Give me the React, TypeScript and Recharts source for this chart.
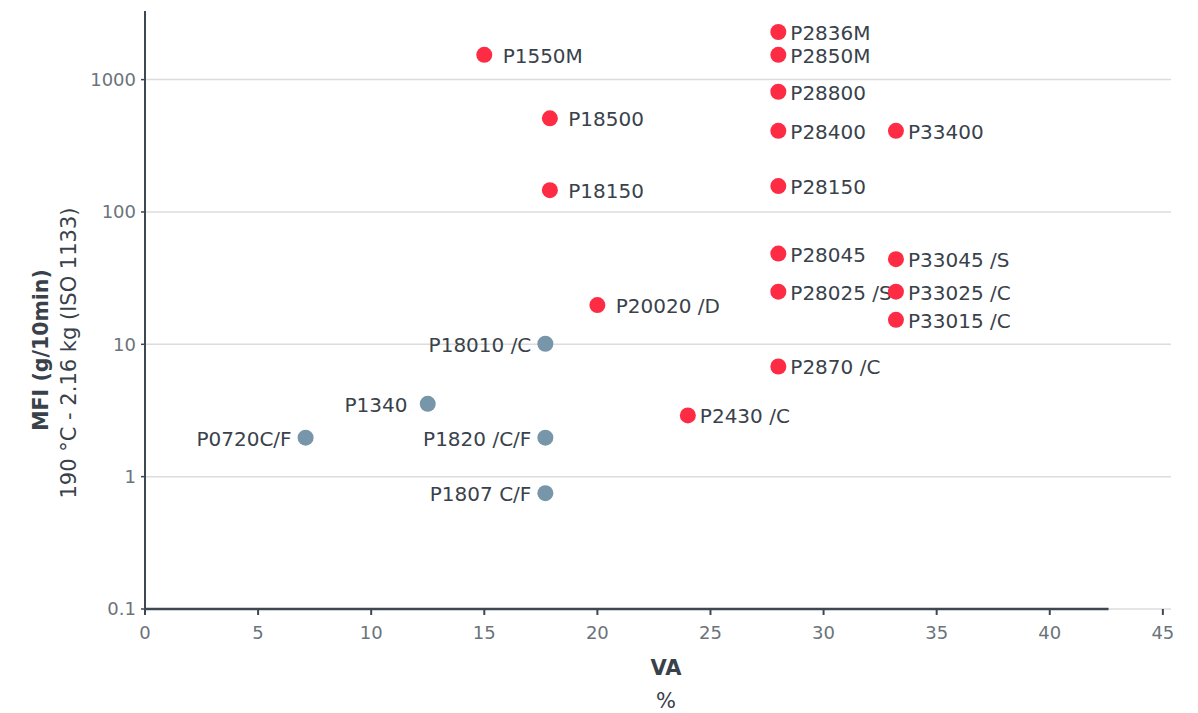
import { Label, ReferenceLine, Scatter, ScatterChart, XAxis, YAxis } from "recharts";

// red grades (labels right of the dot)
const redNames = [
  " P1550M", "P2836M", "P2850M", "P28800", " P18500", "P28400", "P33400", " P18150", "P28150",
  "P28045", "P33045 /S", "P28025 /S", "P33025 /C", " P20020 /D", "P33015 /C", "P2870 /C", "P2430 /C",
];
const redVA = [15, 28, 28, 28, 17.9, 28, 33.2, 17.9, 28, 28, 33.2, 28, 33.2, 20, 33.2, 28, 24];
const redMFI = [1540, 2290, 1540, 810, 510, 410, 410, 146, 157, 48.5, 44, 25, 25, 19.8, 15.3, 6.8, 2.9];

// blue grades (labels left of the dot)
const blueNames = ["P18010 /C", "P1340 ", "P0720C/F", "P1820 /C/F", "P1807 C/F"];
const blueVA = [17.7, 12.5, 7.1, 17.7, 17.7];
const blueMFI = [10.1, 3.55, 1.97, 1.97, 0.75];

const xTicks = [0, 5, 10, 15, 20, 25, 30, 35, 40, 45];
const yTicks = [0.1, 1, 10, 100, 1000];

const redData = redNames.map((name, i) => ({ name, x: redVA[i], y: redMFI[i] }));
const blueData = blueNames.map((name, i) => ({ name, x: blueVA[i], y: blueMFI[i] }));

const FONT = "'DejaVu Sans', sans-serif";
const AXIS = "#3d4852";
const TEXT = "#39424b";

function RedDot(props: any) {
  const { cx, cy, payload } = props;
  return (
    <g>
      <circle cx={cx} cy={cy} r={8} fill="#fe2b45" />
      <text x={cx + 12} y={cy} dy={8} fontSize={20} fontFamily={FONT} fill={TEXT} style={{ whiteSpace: "pre" }}>
        {payload.name}
      </text>
    </g>
  );
}

function BlueDot(props: any) {
  const { cx, cy, payload } = props;
  return (
    <g>
      <circle cx={cx} cy={cy} r={8} fill="#7896aa" />
      <text x={cx - 14} y={cy} dy={8} fontSize={20} fontFamily={FONT} fill={TEXT} textAnchor="end" style={{ whiteSpace: "pre" }}>
        {payload.name}
      </text>
    </g>
  );
}

function YTitle(props: any) {
  const { viewBox } = props;
  const x1 = viewBox.x + 41;
  const x2 = viewBox.x + 69;
  const y = 350;
  return (
    <g fontFamily={FONT} fill={TEXT}>
      <text x={x1} y={y} transform={`rotate(-90, ${x1}, ${y})`} textAnchor="middle" dominantBaseline="central" fontSize={20.5} fontWeight="bold">
        MFI (g/10min)
      </text>
      <text x={x2} y={y + 3} transform={`rotate(-90, ${x2}, ${y + 3})`} textAnchor="middle" dominantBaseline="central" fontSize={21}>
        190 °C - 2.16 kg (ISO 1133)
      </text>
    </g>
  );
}

function XTitle(props: any) {
  const { viewBox } = props;
  const cx = viewBox.x + viewBox.width / 2 + 8;
  return (
    <g fontFamily={FONT} fill={TEXT}>
      <text x={cx} y={668} textAnchor="middle" dominantBaseline="central" fontSize={21} fontWeight="bold">
        VA
      </text>
      <text x={cx} y={701} textAnchor="middle" dominantBaseline="central" fontSize={21}>
        %
      </text>
    </g>
  );
}

export default function App() {
  return (
    <div style={{ position: "absolute", left: 0, top: 0, background: "#fff" }}>
      <ScatterChart width={1198} height={713} margin={{ top: 11, right: 27, bottom: 0, left: 0 }}>
        <XAxis
          type="number"
          dataKey="x"
          domain={[0, 45.36]}
          ticks={xTicks}
          allowDataOverflow
          height={104}
          axisLine={false}
          tickLine={{ stroke: AXIS, strokeWidth: 2 }}
          tickSize={6}
          tickMargin={11}
          tick={{ fill: "#6b737b", fontSize: 18, fontFamily: FONT }}
        >
          <Label content={XTitle} />
        </XAxis>
        <YAxis
          type="number"
          dataKey="y"
          scale="log"
          domain={[0.1, 3300]}
          ticks={yTicks}
          allowDataOverflow
          width={145}
          axisLine={{ stroke: AXIS, strokeWidth: 2 }}
          tickLine={{ stroke: AXIS, strokeWidth: 1.5 }}
          tickSize={4}
          tickMargin={5}
          tick={{ fill: "#6b737b", fontSize: 18, fontFamily: FONT }}
        >
          <Label content={YTitle} />
        </YAxis>
        {yTicks.map((t) => (
          <ReferenceLine key={t} y={t} stroke="#dcdcdc" strokeWidth={1.5} />
        ))}
        <ReferenceLine
          segment={[{ x: 0, y: 0.1 }, { x: 42.6, y: 0.1 }]}
          stroke={AXIS}
          strokeWidth={2.5}
          ifOverflow="visible"
        />
        <Scatter data={redData} shape={RedDot} isAnimationActive={false} />
        <Scatter data={blueData} shape={BlueDot} isAnimationActive={false} />
      </ScatterChart>
    </div>
  );
}
